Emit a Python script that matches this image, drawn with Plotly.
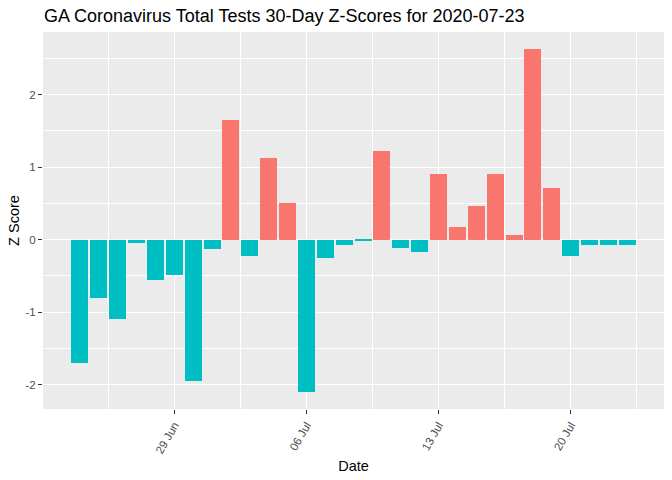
import plotly.graph_objects as go
import pandas as pd

dates = pd.date_range("2020-06-24", "2020-07-23", freq="D")
z_scores = [-1.70, -0.80, -1.09, -0.05, -0.56, -0.49, -1.95, -0.13,
            1.65, -0.23, 1.13, 0.51, -2.10, -0.25, -0.08, -0.02,
            1.22, -0.11, -0.17, 0.90, 0.17, 0.47, 0.90, 0.07,
            2.63, 0.71, -0.23, -0.08, -0.08, -0.08]
x_tick_vals = ["2020-06-29", "2020-07-06", "2020-07-13", "2020-07-20"]
x_tick_text = ["29 Jun", "06 Jul", "13 Jul", "20 Jul"]
y_tick_vals = [-2, -1, 0, 1, 2]
y_tick_text = ["-2", "-1", "0", "1", "2"]

colors = ["#F8766D" if v > 0 else "#00BFC4" for v in z_scores]

fig = go.Figure(go.Bar(
    x=dates, y=z_scores, marker=dict(color=colors, line=dict(width=0)),
    width=0.9 * 86400000, showlegend=False,
))

fig.update_layout(
    width=672, height=480,
    margin=dict(l=43, r=8, t=32, b=71, autoexpand=False),
    paper_bgcolor="white", plot_bgcolor="#EBEBEB",
    font=dict(family="Liberation Sans, Arial, sans-serif", color="black"),
    title=dict(text="GA Coronavirus Total Tests 30-Day Z-Scores for 2020-07-23",
               x=44 / 672, xref="container", xanchor="left", y=1, yref="container",
               yanchor="top", pad=dict(t=9), font=dict(size=18, color="black")),
    bargap=0,
)
fig.update_xaxes(
    type="date", automargin=False,
    range=["2020-06-22 01:00", "2020-07-24 22:40"],
    tickvals=x_tick_vals, ticktext=x_tick_text, tickangle=-60,
    tickfont=dict(size=11.5, color="#4D4D4D"),
    ticks="outside", ticklen=4, tickcolor="#333333", tickwidth=1,
    showgrid=True, gridcolor="white", gridwidth=1.1,
    minor=dict(tick0="2020-06-25 12:00", dtick=7 * 86400000, showgrid=True,
               gridcolor="white", gridwidth=0.5, ticks=""),
    zeroline=False, showline=False,
    title=dict(text="Date", font=dict(size=14.5, color="black"), standoff=6),
)
fig.update_yaxes(
    automargin=False,
    range=[-2.337, 2.866],
    tickvals=y_tick_vals, ticktext=y_tick_text,
    tickfont=dict(size=11.5, color="#4D4D4D"),
    ticks="outside", ticklen=4, tickcolor="#333333", tickwidth=1,
    showgrid=True, gridcolor="white", gridwidth=1.1,
    minor=dict(tick0=0.5, dtick=1, showgrid=True, gridcolor="white",
               gridwidth=0.5, ticks=""),
    zeroline=False, showline=False,
    title=dict(text="Z Score", font=dict(size=14.5, color="black"), standoff=2),
)

fig.write_html("out.html", config={"displayModeBar": False},
               post_script="document.body.style.margin='0';document.body.style.overflow='hidden';")
